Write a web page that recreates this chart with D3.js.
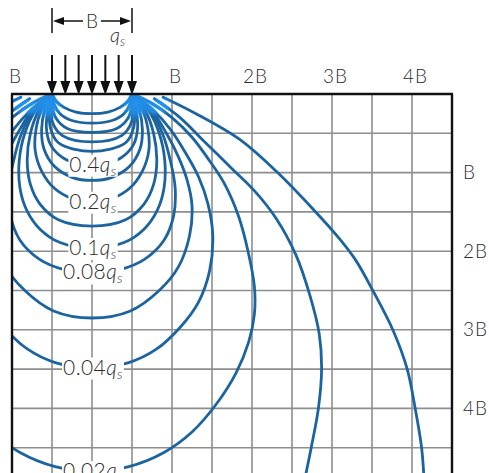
<!DOCTYPE html>
<html><head><meta charset="utf-8">
<script src="https://cdn.jsdelivr.net/npm/d3@7"></script>
<style>
body{margin:0;background:#fff}
text{font-family:Lato,"Open Sans","DejaVu Sans",sans-serif;font-weight:300;fill:#2e2e2e}
</style>
</head><body>
<svg id="chart" width="489" height="473"></svg>
<script>
// ---------------- data (B units: x = offset from footing centre, z = depth) ----------------
const footingHalfWidth = 0.5;
const loadArrowCount = 7;
const xTickValues = [-1, 1, 2, 3, 4];
const xTickLabels = ["B", "B", "2B", "3B", "4B"];
const zTickValues = [1, 2, 3, 4];
const zTickLabels = ["B", "2B", "3B", "4B"];
const labeledLevels = [0.4, 0.2, 0.1, 0.08, 0.04, 0.02];

// right half of each isobar, from the footing edge toward the centre line
const iso090 = [[0.5,0],[0.45,0.09],[0.35,0.17],[0.2,0.23],[0,0.25]];
const iso080 = [[0.5,0],[0.48,0.12],[0.4,0.25],[0.24,0.34],[0,0.37]];
const iso070 = [[0.5,0],[0.5,0.15],[0.45,0.31],[0.31,0.44],[0,0.49]];
const iso060 = [[0.5,0],[0.51,0.18],[0.49,0.37],[0.37,0.53],[0,0.61]];
const iso050 = [[0.5,0],[0.53,0.2],[0.52,0.43],[0.42,0.62],[0,0.73]];
const iso040 = [[0.5,0],[0.55,0.2],[0.57,0.43],[0.52,0.64],[0.38,0.8],[0.2,0.88],[0,0.9]];
const iso030 = [[0.5,0],[0.59,0.2],[0.63,0.45],[0.6,0.7],[0.47,0.92],[0.25,1.06],[0,1.1]];
const iso020 = [[0.5,0],[0.63,0.2],[0.7,0.45],[0.71,0.72],[0.63,0.98],[0.47,1.2],[0.25,1.33],[0,1.37]];
const iso015 = [[0.5,0],[0.66,0.2],[0.77,0.5],[0.81,0.85],[0.77,1.15],[0.65,1.4],[0.42,1.6],[0,1.68]];
const iso010 = [[0.5,0],[0.7,0.2],[0.84,0.5],[0.91,0.85],[0.9,1.2],[0.82,1.47],[0.65,1.72],[0.4,1.89],[0,1.96]];
const iso008 = [[0.5,0],[0.72,0.2],[0.88,0.5],[0.98,0.85],[1.04,1.2],[1.02,1.55],[0.9,1.86],[0.66,2.1],[0.36,2.23],[0,2.27]];
const iso006 = [[0.5,0],[0.74,0.2],[0.93,0.5],[1.08,0.8],[1.19,1.1],[1.25,1.42],[1.22,1.8],[1.08,2.2],[0.84,2.5],[0.48,2.76],[0,2.85]];
const iso004 = [[0.5,0],[0.76,0.2],[0.98,0.45],[1.17,0.75],[1.33,1.05],[1.45,1.4],[1.51,1.8],[1.47,2.25],[1.33,2.65],[1.1,2.97],[0.8,3.25],[0.45,3.42],[0,3.48]];
const iso002 = [[0.5,0],[0.75,0.12],[1.0,0.3],[1.25,0.55],[1.47,0.85],[1.66,1.15],[1.83,1.55],[1.95,2.0],[2.03,2.45],[2.03,2.8],[1.96,3.15],[1.8,3.55],[1.55,3.95],[1.25,4.3],[0.9,4.56],[0.46,4.74],[0,4.8]];
const iso001 = [[0.78,0.06],[1.1,0.3],[1.4,0.6],[1.75,0.95],[2.02,1.22],[2.3,1.58],[2.55,2.05],[2.72,2.55],[2.84,3.05],[2.87,3.5],[2.83,4.0],[2.74,4.5],[2.66,4.9]];
const iso0005 = [[0.89,0.04],[1.3,0.25],[1.85,0.58],[2.3,0.98],[2.75,1.45],[3.1,1.85],[3.3,2.12],[3.51,2.5],[3.76,3.0],[3.94,3.5],[4.04,4.0],[4.12,4.5],[4.15,4.9]];

const isobars = [
  [0.9, iso090],[0.8, iso080],[0.7, iso070],[0.6, iso060],[0.5, iso050],
  [0.4, iso040],[0.3, iso030],[0.2, iso020],[0.15, iso015],[0.1, iso010],
  [0.08, iso008],[0.06, iso006],[0.04, iso004],[0.02, iso002],[0.01, iso001],[0.005, iso0005]
];
const isoMap = new Map(isobars);

// ---------------- drawing ----------------
const W = 489, H = 473;
const svg = d3.select("#chart");
const x = d3.scaleLinear().domain([-1, 4.5]).range([12, 452]);
const z = d3.scaleLinear().domain([0, 1]).range([94, 172.6]);

const defs = svg.append("defs");
defs.append("clipPath").attr("id", "frameClip")
  .append("rect").attr("x", x(-1)).attr("y", z(0)).attr("width", x(4.5) - x(-1)).attr("height", H - z(0));
const rg = defs.append("radialGradient").attr("id", "glow");
rg.append("stop").attr("offset", "0%").attr("stop-color", "#fff").attr("stop-opacity", 1);
rg.append("stop").attr("offset", "55%").attr("stop-color", "#fff").attr("stop-opacity", 0.8);
rg.append("stop").attr("offset", "100%").attr("stop-color", "#fff").attr("stop-opacity", 0);
const mask = defs.append("mask").attr("id", "glowMask").attr("maskUnits", "userSpaceOnUse")
  .attr("x", 0).attr("y", 0).attr("width", W).attr("height", H);
[-footingHalfWidth, footingHalfWidth].forEach(v => {
  mask.append("circle").attr("cx", x(v) + (v > 0 ? 4 : -4)).attr("cy", z(0.12)).attr("r", 18).attr("fill", "url(#glow)");
});
[iso001[0], iso0005[0]].forEach(p => {
  [-1, 1].forEach(s => mask.append("circle").attr("cx", x(s * p[0])).attr("cy", z(p[1] + 0.1)).attr("r", 10).attr("fill", "url(#glow)"));
});

// grid
const grid = svg.append("g").attr("stroke", "#8e8e8e").attr("stroke-width", 1.6);
d3.range(-0.5, 4.49, 0.5).forEach(v => {
  grid.append("line").attr("x1", x(v)).attr("x2", x(v)).attr("y1", z(0)).attr("y2", H);
});
d3.range(0.5, 5.01, 0.5).forEach(v => {
  grid.append("line").attr("x1", x(-1)).attr("x2", x(4.5)).attr("y1", z(v)).attr("y2", z(v));
});

// isobars
const line = d3.line().x(d => x(d[0])).y(d => z(d[1])).curve(d3.curveCatmullRom.alpha(0.5));
function isoPaths(profile) {
  const mirror = profile.map(p => [-p[0], p[1]]);
  if (profile[profile.length - 1][0] === 0) {
    return [mirror.concat(profile.slice(0, -1).reverse())];
  }
  return [profile, mirror];
}
const allPaths = [];
isobars.forEach(([lvl, prof]) => isoPaths(prof).forEach(p => allPaths.push(p)));

const isoLayer = svg.append("g").attr("clip-path", "url(#frameClip)");
isoLayer.append("g").selectAll("path").data(allPaths).join("path")
  .attr("d", line).attr("fill", "none").attr("stroke", "#1b64a0").attr("stroke-width", 2.8)
  .attr("stroke-linecap", "round");
isoLayer.append("g").attr("mask", "url(#glowMask)").selectAll("path").data(allPaths).join("path")
  .attr("d", line).attr("fill", "none").attr("stroke", "#2393ee").attr("stroke-width", 3.6)
  .attr("stroke-linecap", "round");

// isobar labels: white backings first, then texts
const labelBack = svg.append("g");
const labelText = svg.append("g");
labeledLevels.forEach(lvl => {
  const prof = isoMap.get(lvl);
  const zc = prof[prof.length - 1][1];
  const t = labelText.append("text").attr("x", x(0) + 1).attr("y", z(zc) + 7)
    .attr("text-anchor", "middle").attr("font-size", 21).attr("letter-spacing", 0.4);
  t.append("tspan").text(String(lvl));
  t.append("tspan").attr("font-style", "italic").text("q");
  t.append("tspan").attr("font-size", 14).attr("font-style", "italic").attr("dy", 4).text("s");
  const bb = t.node().getBBox();
  labelBack.append("rect").attr("x", bb.x - 1).attr("y", bb.y + 4).attr("width", bb.width + 2)
    .attr("height", bb.height - 6).attr("fill", "#fff");
});

// frame
const frame = svg.append("g").attr("stroke", "#111").attr("stroke-width", 2.4).attr("fill", "none");
frame.append("line").attr("x1", x(-1) - 1).attr("x2", x(4.5) + 1).attr("y1", z(0)).attr("y2", z(0));
frame.append("line").attr("x1", x(-1)).attr("x2", x(-1)).attr("y1", z(0)).attr("y2", H);
frame.append("line").attr("x1", x(4.5)).attr("x2", x(4.5)).attr("y1", z(0)).attr("y2", H);

// axes
const topAxis = d3.axisTop(x).tickValues(xTickValues).tickFormat((d, i) => xTickLabels[i]).tickSize(0).tickPadding(0);
const gTop = svg.append("g").attr("transform", "translate(3,83)").call(topAxis);
gTop.select(".domain").remove();
gTop.attr("font-family", null).attr("font-size", null);
gTop.selectAll("text").attr("font-size", 19).attr("letter-spacing", 1).attr("fill", "#2e2e2e");

const rightAxis = d3.axisRight(z).tickValues(zTickValues).tickFormat((d, i) => zTickLabels[i]).tickSize(0).tickPadding(0);
const gRight = svg.append("g").attr("transform", "translate(463,0)").call(rightAxis);
gRight.select(".domain").remove();
gRight.attr("font-family", null).attr("font-size", null);
gRight.selectAll("text").attr("font-size", 19).attr("letter-spacing", 1).attr("fill", "#2e2e2e");

// load arrows
const arrowX = d3.range(loadArrowCount).map(i => -footingHalfWidth + i * (2 * footingHalfWidth) / (loadArrowCount - 1));
const loads = svg.append("g");
arrowX.forEach(v => {
  const px = x(v);
  loads.append("line").attr("x1", px).attr("x2", px).attr("y1", 55).attr("y2", 86).attr("stroke", "#111").attr("stroke-width", 2);
  loads.append("path").attr("d", `M${px - 5},81 L${px + 5},81 L${px},95 Z`).attr("fill", "#111");
});

// dimension "B"
const dim = svg.append("g").attr("stroke", "#111").attr("stroke-width", 1.5);
const xl = x(-footingHalfWidth), xr = x(footingHalfWidth), xc = x(0);
dim.append("line").attr("x1", xl).attr("x2", xl).attr("y1", 8).attr("y2", 33);
dim.append("line").attr("x1", xr).attr("x2", xr).attr("y1", 8).attr("y2", 33);
dim.append("line").attr("x1", xl + 4).attr("x2", xc - 9).attr("y1", 21).attr("y2", 21);
dim.append("line").attr("x1", xc + 9).attr("x2", xr - 4).attr("y1", 21).attr("y2", 21);
svg.append("path").attr("d", `M${xl + 1},21 L${xl + 12},17 L${xl + 12},25 Z`).attr("fill", "#111");
svg.append("path").attr("d", `M${xr - 1},21 L${xr - 12},17 L${xr - 12},25 Z`).attr("fill", "#111");
svg.append("text").attr("x", xc).attr("y", 28).attr("text-anchor", "middle").attr("font-size", 19).text("B");

const qs = svg.append("text").attr("x", 110).attr("y", 42).attr("font-size", 20);
qs.append("tspan").attr("font-style", "italic").text("q");
qs.append("tspan").attr("font-size", 13).attr("font-style", "italic").attr("dy", 4).text("s");
</script>
</body></html>
